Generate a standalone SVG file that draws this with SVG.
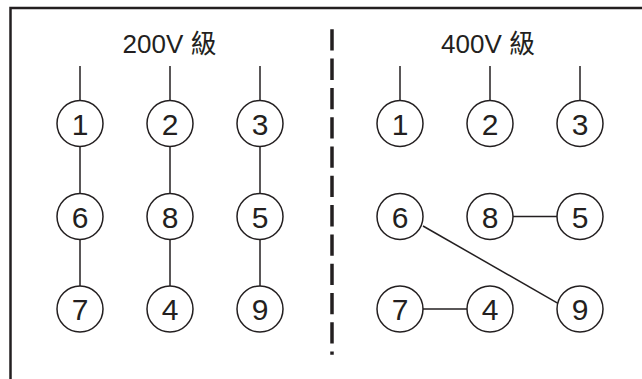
<svg xmlns="http://www.w3.org/2000/svg" width="642" height="379" viewBox="0 0 642 379">
<style>
  .frame { fill: none; stroke: #231f20; stroke-width: 2.5; }
  .node circle { fill: #ffffff; stroke: #231f20; stroke-width: 1.5; }
  .node text { font-family: "Liberation Sans", Arial, sans-serif; font-size: 30px; fill: #231f20; text-anchor: middle; }
  .title { font-family: "Liberation Sans", "Noto Sans CJK TC", sans-serif; font-size: 26px; fill: #231f20; text-anchor: middle; }
  .wire { stroke: #231f20; stroke-width: 1.5; fill: none; }
  .divider { stroke: #231f20; stroke-width: 3.5; stroke-dasharray: 21.3 8; fill: none; }
</style>
<rect width="642" height="379" fill="#ffffff"/>
<path class="frame" d="M10.5 379 V8 H642"/>
<line class="divider" x1="332" y1="29.3" x2="332" y2="354.7"/>
<text class="title" x="169.5" y="53">200V 級</text>
<text class="title" x="488" y="53">400V 級</text>
<g id="connectors">
  <line class="wire" x1="80" y1="66" x2="80" y2="100.5"/>
  <line class="wire" x1="170" y1="66" x2="170" y2="100.5"/>
  <line class="wire" x1="260" y1="66" x2="260" y2="100.5"/>
  <line class="wire" x1="80" y1="146.5" x2="80" y2="193.5"/>
  <line class="wire" x1="80" y1="239.5" x2="80" y2="286"/>
  <line class="wire" x1="170" y1="146.5" x2="170" y2="193.5"/>
  <line class="wire" x1="170" y1="239.5" x2="170" y2="286"/>
  <line class="wire" x1="260" y1="146.5" x2="260" y2="193.5"/>
  <line class="wire" x1="260" y1="239.5" x2="260" y2="286"/>
  <line class="wire" x1="400" y1="66" x2="400" y2="100.5"/>
  <line class="wire" x1="490" y1="66" x2="490" y2="100.5"/>
  <line class="wire" x1="580" y1="66" x2="580" y2="100.5"/>
  <line class="wire" x1="513" y1="216.5" x2="557" y2="216.5"/>
  <line class="wire" x1="423" y1="309" x2="467" y2="309"/>
  <line class="wire" x1="423" y1="226" x2="558" y2="303.3"/>
</g>
<g id="n200-1" class="node"><circle cx="80" cy="123.5" r="23"/><text x="80" y="134.5">1</text></g>
<g id="n200-2" class="node"><circle cx="170" cy="123.5" r="23"/><text x="170" y="134.5">2</text></g>
<g id="n200-3" class="node"><circle cx="260" cy="123.5" r="23"/><text x="260" y="134.5">3</text></g>
<g id="n200-6" class="node"><circle cx="80" cy="216.5" r="23"/><text x="80" y="227.5">6</text></g>
<g id="n200-8" class="node"><circle cx="170" cy="216.5" r="23"/><text x="170" y="227.5">8</text></g>
<g id="n200-5" class="node"><circle cx="260" cy="216.5" r="23"/><text x="260" y="227.5">5</text></g>
<g id="n200-7" class="node"><circle cx="80" cy="309" r="23"/><text x="80" y="320">7</text></g>
<g id="n200-4" class="node"><circle cx="170" cy="309" r="23"/><text x="170" y="320">4</text></g>
<g id="n200-9" class="node"><circle cx="260" cy="309" r="23"/><text x="260" y="320">9</text></g>
<g id="n400-1" class="node"><circle cx="400" cy="123.5" r="23"/><text x="400" y="134.5">1</text></g>
<g id="n400-2" class="node"><circle cx="490" cy="123.5" r="23"/><text x="490" y="134.5">2</text></g>
<g id="n400-3" class="node"><circle cx="580" cy="123.5" r="23"/><text x="580" y="134.5">3</text></g>
<g id="n400-6" class="node"><circle cx="400" cy="216.5" r="23"/><text x="400" y="227.5">6</text></g>
<g id="n400-8" class="node"><circle cx="490" cy="216.5" r="23"/><text x="490" y="227.5">8</text></g>
<g id="n400-5" class="node"><circle cx="580" cy="216.5" r="23"/><text x="580" y="227.5">5</text></g>
<g id="n400-7" class="node"><circle cx="400" cy="309" r="23"/><text x="400" y="320">7</text></g>
<g id="n400-4" class="node"><circle cx="490" cy="309" r="23"/><text x="490" y="320">4</text></g>
<g id="n400-9" class="node"><circle cx="580" cy="309" r="23"/><text x="580" y="320">9</text></g>
</svg>
